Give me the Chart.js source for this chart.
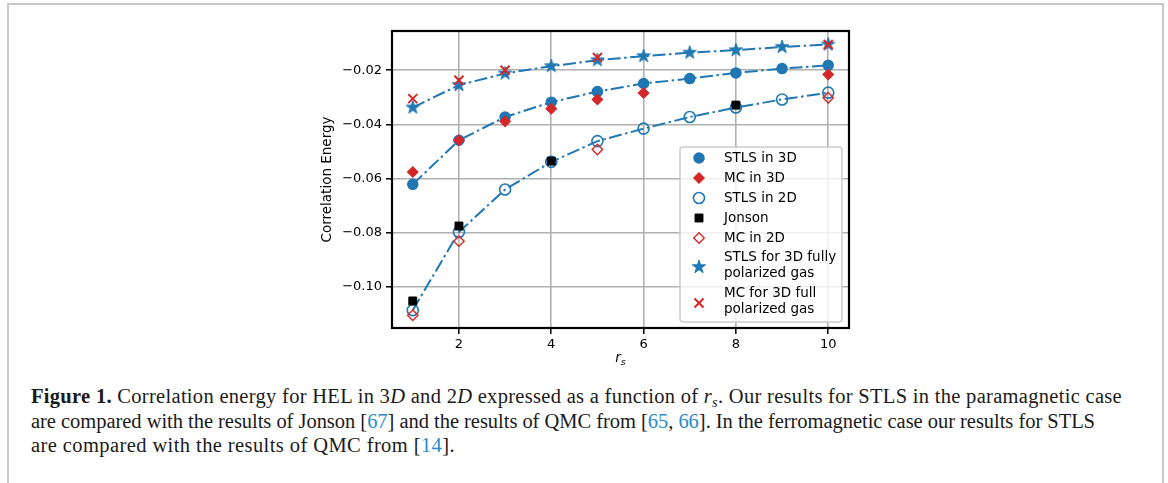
<!DOCTYPE html>
<html><head><meta charset="utf-8">
<script src="https://cdn.jsdelivr.net/npm/chart.js@4"></script>
<style>
html,body{margin:0;padding:0;background:#fff;width:1168px;height:483px;overflow:hidden;}
#frame{position:absolute;left:7px;top:3px;width:1157px;height:600px;box-sizing:border-box;border:2px solid #c8c8c8;border-bottom:none;}
#wrap{position:absolute;left:300px;top:0;width:570px;height:375px;}
#cap{position:absolute;left:31px;top:384px;font-family:"Liberation Serif",serif;font-size:20.5px;line-height:24.5px;color:#1a1a1a;white-space:nowrap;}
#cap .ln{display:inline-block;}
#cap a{color:#2a8bc8;text-decoration:none}
#cap sub{font-size:0.7em;vertical-align:-0.25em;line-height:0}
</style></head><body>
<div id="frame"></div>
<div id="wrap"><canvas id="c" width="570" height="375"></canvas></div>
<div id="cap"><span class="ln" data-w="1091"><b>Figure 1.</b> Correlation energy for HEL in 3<i>D</i> and 2<i>D</i> expressed as a function of <i>r<sub>s</sub></i>. Our results for STLS in the paramagnetic case</span><br><span class="ln" data-w="1064">are compared with the results of Jonson [<a>67</a>] and the results of QMC from [<a>65</a>, <a>66</a>]. In the ferromagnetic case our results for STLS</span><br><span class="ln" data-w="424">are compared with the results of QMC from [<a>14</a>].</span></div>
<script>
// ---- data ----
const rsAll = [1,2,3,4,5,6,7,8,9,10];
const stls3D = [-0.0622,-0.0459,-0.0373,-0.0318,-0.0279,-0.0249,-0.0231,-0.0210,-0.0194,-0.0182];
const mc3D_rs = [1,2,3,4,5,6,10];
const mc3D = [-0.0576,-0.0459,-0.0389,-0.0342,-0.0308,-0.0284,-0.0216];
const stls2D = [-0.1087,-0.0798,-0.0641,-0.0539,-0.0462,-0.0416,-0.0373,-0.0338,-0.0308,-0.0283];
const jonson_rs = [1,2,4,8];
const jonson = [-0.1053,-0.0776,-0.0536,-0.0329];
const mc2D_rs = [1,2,5,10];
const mc2D = [-0.1106,-0.0832,-0.0493,-0.0302];
const stlsPol = [-0.0338,-0.0255,-0.0212,-0.0185,-0.0163,-0.0148,-0.0135,-0.0126,-0.0114,-0.0105];
const mcPol_rs = [1,2,3,5,10];
const mcPol = [-0.0305,-0.0237,-0.0200,-0.0153,-0.0105];
const xTicks = [2,4,6,8,10];
const yTicks = [-0.10,-0.08,-0.06,-0.04,-0.02];
const labels = ['STLS in 3D','MC in 3D','STLS in 2D','Jonson','MC in 2D',['STLS for 3D fully','polarized gas'],['MC for 3D full','polarized gas']];

// caption line fitting (letter-spacing per line)
document.querySelectorAll('#cap .ln').forEach(el=>{
  const target = +el.dataset.w; const w = el.getBoundingClientRect().width;
  const n = el.textContent.length;
  el.style.letterSpacing = ((target - w)/n).toFixed(3)+'px';
});

const BLUE = '#1f77b4', RED = '#d62728';
function pts(xs, ys){ return xs.map((x,i)=>({x:x,y:ys[i]})); }
function makeStar(R, color){
  const s = Math.ceil(R*2+4); const c = document.createElement('canvas'); c.width=s; c.height=s;
  const g = c.getContext('2d'); g.translate(s/2,s/2); g.beginPath();
  const r = R*0.381966;
  for(let i=0;i<10;i++){ const a=-Math.PI/2+i*Math.PI/5; const rr=i%2?r:R; g.lineTo(rr*Math.cos(a), rr*Math.sin(a)); }
  g.closePath(); g.fillStyle=color; g.fill(); g.lineWidth=1; g.strokeStyle=color; g.stroke();
  return c;
}
const star = makeStar(7, BLUE);
const DASH = [13,3.5,2.5,3.5];

const datasets = [
  {data:pts(rsAll,stls3D), showLine:true, borderColor:BLUE, borderWidth:2, borderDash:DASH,
   pointStyle:'circle', pointRadius:5, pointBorderWidth:1.5, pointBackgroundColor:BLUE, pointBorderColor:BLUE},
  {data:pts(mc3D_rs,mc3D), showLine:false,
   pointStyle:'rectRot', pointRadius:5.2, pointBorderWidth:1.2, pointBackgroundColor:RED, pointBorderColor:RED},
  {data:pts(rsAll,stls2D), showLine:true, borderColor:BLUE, borderWidth:2, borderDash:DASH,
   pointStyle:'circle', pointRadius:5.5, pointBorderWidth:1.6, pointBackgroundColor:'rgba(0,0,0,0)', pointBorderColor:BLUE},
  {data:pts(jonson_rs,jonson), showLine:false,
   pointStyle:'rect', pointRadius:5.6, pointBorderWidth:1, pointBackgroundColor:'#000', pointBorderColor:'#000'},
  {data:pts(mc2D_rs,mc2D), showLine:false,
   pointStyle:'rectRot', pointRadius:5.2, pointBorderWidth:1.4, pointBackgroundColor:'rgba(0,0,0,0)', pointBorderColor:RED},
  {data:pts(rsAll,stlsPol), showLine:true, borderColor:BLUE, borderWidth:2, borderDash:DASH,
   pointStyle:star, pointRadius:7},
  {data:pts(mcPol_rs,mcPol), showLine:false,
   pointStyle:'crossRot', pointRadius:6.4, pointBorderWidth:2, pointBorderColor:RED, pointBackgroundColor:RED}
];
datasets.forEach((d,i)=>{ d.order = 10-i; d.label = Array.isArray(labels[i])?labels[i].join(' '):labels[i]; d.tension=0; d.clip=false; });

const OX = 300; // canvas page offset
const overlay = {
  id:'overlay',
  afterDraw(chart){
    const ctx = chart.ctx, a = chart.chartArea;
    ctx.save();
    // frame (spines)
    ctx.strokeStyle='#000'; ctx.lineWidth=2.2;
    ctx.strokeRect(a.left, a.top, a.right-a.left, a.bottom-a.top);
    // axis titles
    ctx.fillStyle='#000';
    ctx.font='13.5px "DejaVu Sans"';
    ctx.textAlign='center'; ctx.textBaseline='middle';
    ctx.save(); ctx.translate(327.5-OX, (a.top+a.bottom)/2); ctx.rotate(-Math.PI/2);
    ctx.fillText('Correlation Energy',0,0); ctx.restore();
    ctx.textAlign='left'; ctx.textBaseline='alphabetic';
    ctx.font='italic 13.5px "DejaVu Sans"';
    const cx = (a.left+a.right)/2;
    const rw = ctx.measureText('r').width;
    ctx.font='italic 9.5px "DejaVu Sans"';
    const sw = ctx.measureText('s').width;
    const x0 = cx - (rw+sw)/2;
    ctx.font='italic 13.5px "DejaVu Sans"';
    ctx.fillText('r', x0, 362);
    ctx.font='italic 9.5px "DejaVu Sans"';
    ctx.fillText('s', x0+rw, 365);
    // legend
    const bx=680-OX, by=147, bw=162, bh=175, rr=3;
    ctx.beginPath();
    ctx.moveTo(bx+rr,by); ctx.lineTo(bx+bw-rr,by); ctx.arcTo(bx+bw,by,bx+bw,by+rr,rr);
    ctx.lineTo(bx+bw,by+bh-rr); ctx.arcTo(bx+bw,by+bh,bx+bw-rr,by+bh,rr);
    ctx.lineTo(bx+rr,by+bh); ctx.arcTo(bx,by+bh,bx,by+bh-rr,rr);
    ctx.lineTo(bx,by+rr); ctx.arcTo(bx,by,bx+rr,by,rr); ctx.closePath();
    ctx.fillStyle='rgba(255,255,255,0.8)'; ctx.fill();
    ctx.strokeStyle='#cccccc'; ctx.lineWidth=1.5; ctx.stroke();
    const rowsMarker=[158,178,198,218,238,267,303];
    const rowsText=[[158],[178],[198],[218],[238],[257,273],[293,309]];
    const mx=699-OX, tx=724-OX;
    datasets.forEach((d,i)=>{
      ctx.save();
      ctx.fillStyle=d.pointBackgroundColor||BLUE; ctx.strokeStyle=d.pointBorderColor||BLUE;
      ctx.lineWidth=d.pointBorderWidth||1;
      Chart.helpers.drawPoint(ctx,{pointStyle:d.pointStyle, radius:d.pointRadius, rotation:0, borderWidth:d.pointBorderWidth||0}, mx, rowsMarker[i]);
      ctx.restore();
      const lab = Array.isArray(labels[i])?labels[i]:[labels[i]];
      ctx.fillStyle='#000'; ctx.font='13.5px "DejaVu Sans"'; ctx.textAlign='left'; ctx.textBaseline='middle';
      lab.forEach((t,j)=>ctx.fillText(t, tx, rowsText[i][j]));
    });
    ctx.restore();
  }
};

Chart.defaults.font.family='"DejaVu Sans"';
Chart.defaults.font.size=13;
Chart.defaults.color='#000';

new Chart(document.getElementById('c'), {
  type:'scatter',
  data:{datasets:datasets},
  options:{
    responsive:false, animation:false, devicePixelRatio:1, events:[],
    layout:{padding:{left:0,top:31,right:21,bottom:0}},
    plugins:{legend:{display:false}, tooltip:{enabled:false}},
    scales:{
      x:{type:'linear', min:0.55, max:10.45,
         afterBuildTicks:s=>{ s.ticks = xTicks.map(v=>({value:v})); },
         afterFit:s=>{ s.height = 47; },
         ticks:{padding:3, color:'#000', callback:v=>String(v), maxRotation:0, autoSkip:false},
         grid:{color:'#b0b0b0', lineWidth:1.6, tickColor:'#000', tickLength:6, tickWidth:1.5},
         border:{display:false}},
      y:{type:'linear', min:-0.1153, max:-0.0055,
         afterBuildTicks:s=>{ s.ticks = yTicks.map(v=>({value:v})); },
         afterFit:s=>{ s.width = 92; },
         ticks:{padding:4, color:'#000', autoSkip:false, callback:v=>(v<0?'\u2212':'')+Math.abs(v).toFixed(2)},
         grid:{color:'#b0b0b0', lineWidth:1.6, tickColor:'#000', tickLength:6, tickWidth:1.5},
         border:{display:false}}
    }
  },
  plugins:[overlay]
});
</script>
</body></html>
